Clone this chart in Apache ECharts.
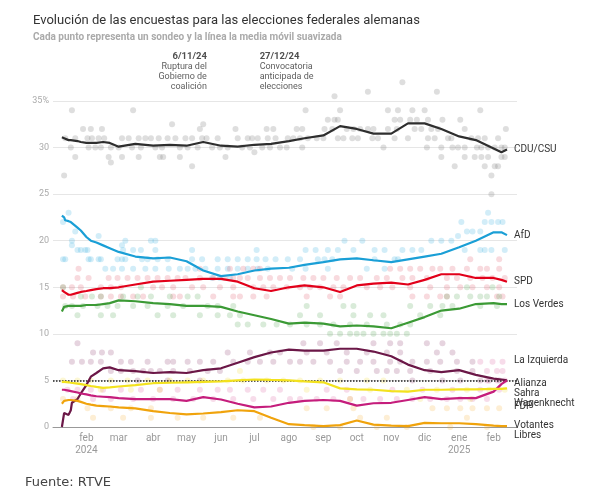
<!DOCTYPE html>
<html><head><meta charset="utf-8">
<script src="https://cdn.jsdelivr.net/npm/echarts@6/dist/echarts.min.js"></script>
<style>html,body{margin:0;padding:0;background:#fff}#c{width:595px;height:504px}</style>
</head><body><div id="c"></div>
<script>
// days counted from 2024-01-01 (day 0)
const lineDays = [9,11,12,15,17,18,23,26,31,35,40,46,52,60,75,91,106,121,136,152,167,182,197,213,227,244,259,274,289,305,320,335,350,366,381,397,404,409];
const cduLine = [31.1,31.0,31.0,30.8,30.8,30.9,30.7,30.6,30.5,30.5,30.5,30.6,30.5,30.1,30.4,30.2,30.3,30.2,30.6,30.2,30.1,30.3,30.4,30.7,31.0,31.3,32.3,32.0,31.5,31.5,32.6,32.6,32.0,31.2,30.8,29.9,29.5,29.8];
const afdLine = [22.7,22.5,22.2,22.1,22.0,21.8,21.4,21.1,20.4,20.0,19.8,19.5,19.2,18.8,18.3,18.1,18.2,17.8,16.8,16.2,16.4,16.8,17.0,17.1,17.4,17.7,18.0,18.1,17.9,17.7,18.0,18.3,18.6,19.3,20.0,20.9,20.9,20.6];
const spdLine = [14.7,14.5,14.3,14.2,14.2,14.2,14.4,14.5,14.6,14.7,14.8,14.9,14.9,15.0,15.3,15.6,15.7,15.8,15.9,15.9,15.6,14.9,14.6,15.0,15.2,15.0,14.5,15.2,15.4,15.5,15.3,15.8,16.4,16.4,16.0,16.0,15.8,15.6];
const verdesLine = [12.4,12.9,13.0,13.0,13.0,13.0,13.0,13.0,13.1,13.1,13.1,13.2,13.3,13.6,13.5,13.3,13.2,13.0,13.0,12.9,12.4,12.0,11.6,11.1,11.2,11.1,10.8,10.9,10.8,10.6,11.2,11.8,12.5,12.7,13.2,13.3,13.2,13.2];
const bswLine = [0,1.5,1.6,1.3,1.8,2.6,3.0,3.6,4.5,5.4,5.8,6.3,6.4,6.1,6.0,5.8,5.9,5.8,6.1,6.3,6.9,7.5,8.0,8.3,8.2,8.2,8.4,8.4,8.1,7.6,6.7,6.1,5.9,6.1,5.6,5.2,5.1,5.0];
const linkeLine = [4.0,4.0,3.95,3.9,3.85,3.8,3.7,3.6,3.5,3.4,3.3,3.25,3.2,3.1,3.0,3.0,3.0,2.8,3.2,2.95,2.5,2.1,2.2,2.6,2.8,2.9,2.8,2.3,2.55,2.6,2.9,3.2,3.0,3.1,3.1,3.8,4.6,5.0];
const fdpLine = [4.85,4.85,4.8,4.8,4.75,4.7,4.65,4.6,4.5,4.4,4.3,4.2,4.25,4.35,4.5,4.7,4.75,4.8,4.85,4.9,5.0,5.1,5.05,5.0,4.9,4.8,4.15,4.05,4.0,3.85,3.8,4.0,4.0,4.05,4.05,4.1,4.1,4.15];
const vlLine = [2.5,2.8,2.9,2.9,2.9,2.9,2.8,2.7,2.5,2.4,2.3,2.25,2.2,2.1,2.0,1.7,1.5,1.35,1.45,1.6,1.8,1.7,1.0,0.3,0.2,0.1,0.2,0.7,0.25,0.15,0.1,0.45,0.4,0.4,0.3,0.15,0.1,0.1];

// polls: [day, value]
const cduPolls = [[18,34],[73,34],[11,27],[28,32],[35,32],[45,32],[165,32],[193,32],[199,32],[108,32.5],[136,32.5],[133,32],
[12,31],[21,31],[32,31],[36,31],[42,31],[47,31],[63,31],[69,31],[78,31],[84,31],[89,31],[96,31],[104,31],[111,31],[120,31],[126,31],[135,31],[139,31],[149,31],[167,31],[176,31],[180,31],[185,31],[194,31],[201,31],
[17,30],[33,30],[39,30],[44,30],[53,30],[60,30],[72,30],[80,30],[93,30],[99,30],[115,30],[122,30],[131,30],[144,30],[151,30],[158,30],[171,30],[178,30],[189,30],[196,30],[205,30],
[21,29],[51,29],[63,29],[78,29],[97,29],[100,29],[115,29],[156,29],[182,29.5],[53,28.4],[126,28],
[254,35.5],[284,36],[346,36],[315,37],
[228,34],[259,34],[302,34],[311,34],[324,34],[335,34],[385,34],
[248,33],[254,33],[257,33],[308,33],[313,33],[322,33],[328,33],[338,33],[351,33],[367,33],
[220,32],[225,32],[245,32],[252,32],[265,32],[271,32],[277,32],[284,32],[289,32],[302,32],[310,32],[326,32],[332,32],[341,32],[347,32],[371,32],[408,32],
[212,31],[217,31],[223,31],[230,31],[238,31],[244,31],[257,31],[262,31],[270,31],[275,31],[288,31],[293,31],[308,31],[320,31],[338,31],[344,31],[356,31],[359,31],[377,31],[383,31],[389,31],[401,31],
[211,30],[225,30],[298,30],[337,30],[350,30],[360,30],[365,30],[371,30],[382,30],[386,30],[392,30],[398,30],[404,30],[407,30],
[350,29],[371,29],[380,29],[386,29],[392,29],[404,29],[407,29],
[362,28],[389,28],[398,28],[401,28],[395,27],[395,25]];
const afdPolls = [[15,23],[10,22],[21,21],[18,19.5],[12,18],[26,19],[32,19],[35,18],[44,18],[42,20.5],[63,19.5],
[10,18],[33,18],[42,18],[59,18],[63,18],[66,18],[81,18],[86,18],[95,18],[104,18],[126,18],[135,18],[149,18],[158,18],[167,18],[176,18],[184,18],[192,18],[201,18],
[48,17],[55,17],[63,17],[73,17],[84,17],[93,17],[105,17],[115,17],[122,17],[129,17],[138,17],[149,17],[158,17],[167,17],[176,17],[185,17],[194,17],
[23,19],[30,19],[64,19],[73,19],[80,19],[93,19],[126,19],[184,19],
[18,20],[66,20],[89,20],[93,20],[144,16],[151,16],[160,16],
[263,20],[279,20],[341,20],[350,20],[359,20],[365,20.5],
[228,19],[237,19],[248,19],[257,19],[271,19],[290,19],[299,19],[315,19],[324,19],[332,19],[371,19],[389,19],[395,19],[407,19],[385,19],
[373,21],[378,21],[385,21],[389,22],[395,22],[401,22],[405,22],[368,22],[392,23],
[212,18],[223,18],[239,18],[245,18],[252,18],[290,18],[308,18],[311,18],
[248,17],[216,17],[228,17],[283,17],[299,17]];
const spdPolls = [[23,16],[33,16],[51,16],[59,16],[68,16],[77,16],[86,16],[95,16],[104,16],[113,16],[120,16],[133,16],[145,16],[155,16],[163,16],[169,16],[176,16],[187,16],[196,16],[205,16],[214,16],
[10,15],[18,15],[26,15],[44,15],[53,15],[62,15],[91,15],[99,15],[109,15],[126,15],[136,15],[151,15],[163,15],[181,15],[190,15],[199,15],[211,15],
[10,14],[19,14],[30,14],[44,14],[53,14],[62,14],[73,14],[82,14],[109,14],[115,14],[145,14],[163,14],[169,14],[181,14],[193,14],
[24,17],[133,17],[160,17],[172,17],[181,17],[187,17],
[304,17],[313,17],[322,17],[331,17],[342,17],[349,17],[360,17],[373,17],[385,17],[391,17],[402,17],
[226,16],[235,16],[244,16],[256,16],[268,16],[277,16],[292,16],[301,16],[315,16],[324,16],[337,16],[355,16],[364,16],[376,16],[387,16],[396,16],[407,16],
[223,15],[232,15],[241,15],[253,15],[262,15],[283,15],[295,15],[306,15],[322,15],[340,15],[355,15],[367,15],[378,15],[391,15],[402,15],
[229,14],[250,14],[259,14],[324,14],[337,14],[349,14],[355,14],[400,14],[405,14],[376,18],[402,18]];
const verdesPolls = [[26,14],[36,14],[44,14],[64,14],[77,14],[89,14],[106,14],[122,14],[131,14],
[12,13],[18,13],[28,13],[41,13],[50,13],[59,13],[73,13],[86,13],[104,13],[118,13],[140,13],[149,13],[163,13],
[23,12],[44,12],[55,12],[95,12],[109,12],[133,12],[149,12],[160,12],[169,12],
[167,11],[176,11],[190,11],[202,11],[214,11],[10,15],[80,15],
[355,14],[364,14],[376,14],[385,14],[391,14],[402,14],[373,15],[396,15],
[229,13],[262,13],[271,13],[322,13],[340,13],[351,13],[360,13],[385,13],[400,13],
[223,12],[241,12],[271,12],[286,12],[298,12],[331,12],[349,12],
[229,11],[241,11],[253,11],[268,11],[283,11],[301,11],[313,11],[322,11],
[250,10],[259,10],[268,10],[274,10],[280,10],[289,10],[298,10],[304,10],[310,10],[319,10]];
const bswPolls = [[23,9],[37,8],[45,8],[53,8],[158,8],[178,8],[196,8],[205,8],
[18,7],[27,7],[35,7],[44,7],[62,7],[71,7],[86,7],[104,7],[109,7],[122,7],[133,7],[145,7],[163,7],[176,7],[187,7],[199,7],[214,7],
[53,6],[62,6],[73,6],[82,6],[89,6],[97,6],[109,6],[124,6],[140,6],[151,6],[77,5],[104,5],[133,5],
[226,9],[241,9],[256,9],[289,9],[304,9],[313,9],[337,9],[351,9],
[229,8],[247,8],[265,8],[283,8],[301,8],[313,8],[346,8],[360,8],
[223,7],[235,7],[250,7],[265,7],[277,7],[289,7],[304,7],[313,7],[324,7],[337,7],[349,7],[364,7],[378,7],
[259,6],[274,6],[292,6],[301,6],[310,6],[322,6],[340,6],[364,6],[378,6],
[324,5],[351,5],[367,5],[385,5],[393,5],[402,5]];
const linkePolls = [[14,4],[23,4],[35,4],[46,4],[62,4],[80,4],[97,4],[113,4],[133,4],[149,4],[160,4],[176,4],[190,4],[205,4],
[19,3],[37,3],[53,3],[73,3],[91,3],[109,3],[127,3],[145,3],[163,3],[181,3],[199,3],[214,3],
[223,3],[238,3],[253,3],[268,3],[280,3],[295,3],[310,3],[324,3],[340,3],[355,3],[367,3],[378,3],[391,3],
[247,4],[265,4],[306,4],[333,4],[360,4],[385,4],[402,4],
[391,5],[400,5],[407,5],[391,6],[400,6],[405,6],[385,7],[396,7],[405,7]];
const fdpPolls = [[10,5],[23,5],[35,5],[53,5],[68,5],[86,5],[106,5],[122,5],[136,5],[158,5],[172,5],[193,5],[208,5],[169,6],[44,4],[71,4],[97,4],
[223,5],[241,5],[259,5],[283,5],[298,5],[229,4],[286,4],[319,4],[346,4],[373,4],[393,4],[407,4],[268,3],[331,3],[376,3]];
const vlPolls = [[10,3],[23,3],[32,2],[53,2],[71,2],[89,2],[37,1],[64,1],[89,1],[113,1],[136,1],[163,1],[187,1],
[229,2],[247,2],[271,2],[342,2],[355,2],[367,2],[378,2],[391,2],[402,2],[277,1],[301,1],[373,1],
[235,0],[259,0],[292,0],[319,0],[358,0],[391,0]];

const yTicks = [0,5,10,15,20,25,30,35];
const monthNames = ['ene','feb','mar','abr','may','jun','jul','ago','sep','oct','nov','dic'];
const axisStartDay = 1, axisEndDay = 418;
const events = [
  {day:142, date:'6/11/24', text:'Ruptura del\nGobierno de\ncoalición', side:'left'},
  {day:184, date:'27/12/24', text:'Convocatoria\nanticipada de\nelecciones', side:'right'}
];

function ts(d){ return new Date(2024,0,1+d).getTime(); }

const parties = [
  {name:'CDU/CSU', line:cduLine, polls:cduPolls, color:'#2e2e2e', dot:'rgba(120,120,120,0.3)', dy:0},
  {name:'AfD', line:afdLine, polls:afdPolls, color:'#1a9fd6', dot:'rgba(70,180,225,0.3)', dy:0},
  {name:'SPD', line:spdLine, polls:spdPolls, color:'#e2001a', dot:'rgba(220,70,90,0.25)', dy:0},
  {name:'Los Verdes', line:verdesLine, polls:verdesPolls, color:'#3b9a35', dot:'rgba(80,160,80,0.27)', dy:0},
  {name:'Alianza\nSahra\nWagenknecht', line:bswLine, polls:bswPolls, color:'#6b1747', dot:'rgba(130,40,95,0.25)', dy:13},
  {name:'La Izquierda', line:linkeLine, polls:linkePolls, color:'#c51d7c', dot:'rgba(215,80,150,0.25)', dy:-20},
  {name:'FDP', line:fdpLine, polls:fdpPolls, color:'#f3e21e', dot:'rgba(240,215,40,0.25)', dy:18},
  {name:'Votantes\nLibres', line:vlLine, polls:vlPolls, color:'#f0a30c', dot:'rgba(245,170,40,0.25)', dy:4}
];

const FONT = 'Roboto';
const series = [];
parties.forEach(p => {
  series.push({
    type:'scatter', name:p.name+'_polls', z:1, silent:true, clip:false,
    symbolSize:6, itemStyle:{color:p.dot},
    data:p.polls.map(d => [ts(d[0]), d[1]])
  });
});
parties.forEach((p,i) => {
  series.push({
    type:'line', name:p.name, z:5+i, silent:true, showSymbol:false, symbol:'none',
    lineStyle:{color:p.color, width:2.2}, itemStyle:{color:p.color},
    data:lineDays.map((d,k) => [ts(d), p.line[k]]),
    endLabel:{show:true, formatter:p.name, distance:7, offset:[0,p.dy], color:'#333', fontSize:10, lineHeight:10, fontFamily:FONT}
  });
});
// annotations + reference lines
series.push({
  type:'scatter', name:'annot', z:20, silent:true, clip:false, symbolSize:0,
  data: events.map(e => ({
    value:[ts(e.day), 35],
    label:{show:true, position:e.side==='left'?[-3,-49]:[3,-49], align:e.side==='left'?'right':'left', verticalAlign:'top',
      formatter:'{b|'+e.date+'}\n'+e.text, color:'#333', fontSize:9, lineHeight:10, fontFamily:FONT,
      rich:{b:{fontWeight:'bold', fontSize:9.5, color:'#222', lineHeight:10, fontFamily:FONT}}}
  })),
  markLine:{silent:true, symbol:['none','none'], label:{show:false},
    data:[
      {yAxis:5, lineStyle:{type:'dotted', color:'#222', width:1.5}},
      ...events.map(e => [{coord:[ts(e.day),0], lineStyle:{type:'dotted', color:'#aaa', width:1}},{coord:[ts(e.day),40]}])
    ]}
});

const chart = echarts.init(document.getElementById('c'), null, {renderer:'canvas'});
chart.setOption({
  animation:false,
  backgroundColor:'#fff',
  textStyle:{fontFamily:FONT},
  title:[
    {text:'Evolución de las encuestas para las elecciones federales alemanas', left:33, top:14,
     textStyle:{fontFamily:FONT, fontSize:13, fontWeight:'normal', color:'#333'},
     subtext:'Cada punto representa un sondeo y la línea la media móvil suavizada',
     subtextStyle:{fontFamily:FONT, fontSize:10, fontWeight:'bold', color:'#aaa'}, itemGap:5, padding:0},
    {text:'Fuente: RTVE', left:25, top:476, padding:0,
     textStyle:{fontFamily:'DejaVu Sans', fontSize:13, fontWeight:'normal', color:'#444'}}
  ],
  grid:{left:53, right:78, top:101, bottom:77, containLabel:false},
  xAxis:{type:'time', min:ts(axisStartDay), max:ts(axisEndDay),
    minInterval:28*864e5, maxInterval:31*864e5,
    axisLine:{show:true, lineStyle:{color:'#999', width:1}}, axisTick:{show:false}, splitLine:{show:false},
    axisLabel:{color:'#999', fontSize:10, lineHeight:12, margin:5, fontFamily:FONT, showMinLabel:false, showMaxLabel:false, hideOverlap:false,
      formatter:function(v){ const d=new Date(v); const m=d.getMonth(), y=d.getFullYear(); let s=monthNames[m];
        if((y===2024&&m===1)||(y===2025&&m===0)) s+='\n'+y; return s; }}},
  yAxis:{type:'value', min:yTicks[0], max:yTicks[yTicks.length-1], interval:5,
    axisLine:{show:false}, axisTick:{show:false},
    splitLine:{lineStyle:{color:'#e6e6e6', width:1}},
    axisLabel:{color:'#aaa', fontSize:9, margin:4, fontFamily:FONT, formatter:v => v===35 ? '35%' : String(v)}},
  series:series
});
</script></body></html>
